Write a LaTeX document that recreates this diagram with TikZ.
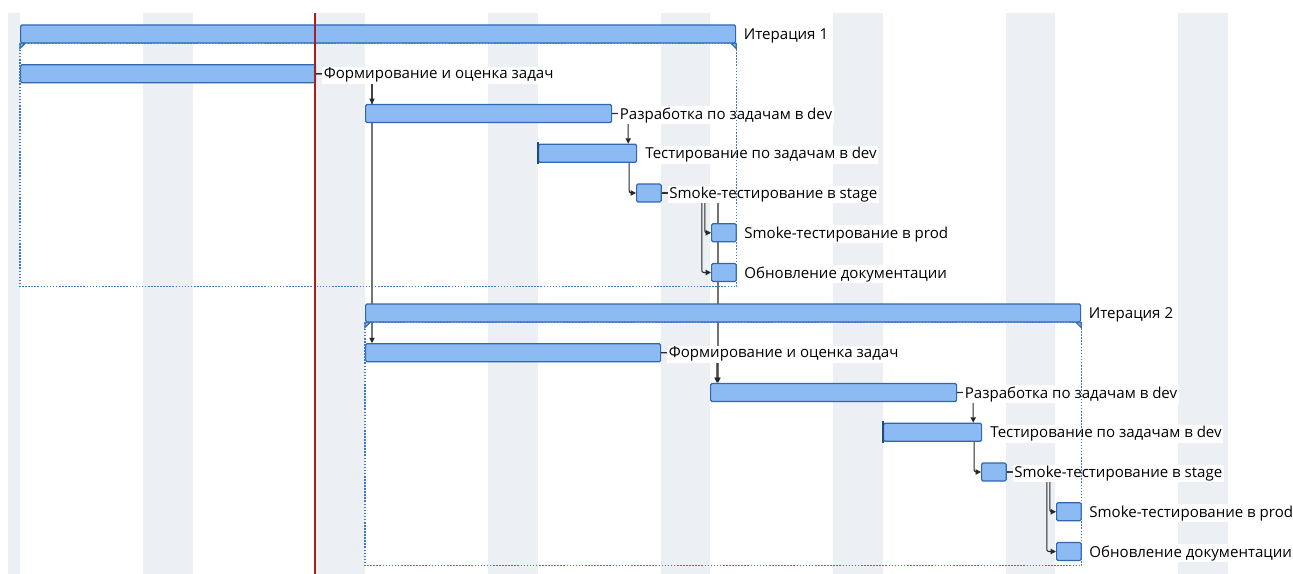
\documentclass[tikz,border=0pt]{standalone}
\usepackage{fontspec}
\setmainfont{Open Sans}
\usetikzlibrary{arrows.meta,positioning}
\definecolor{bandgray}{RGB}{236,239,243}
\definecolor{barfill}{RGB}{140,186,242}
\definecolor{barline}{RGB}{48,104,176}
\definecolor{framecol}{RGB}{60,120,195}
\definecolor{linkcol}{RGB}{40,40,40}
\definecolor{todaycol}{RGB}{170,30,30}
\pgfdeclarelayer{grid}
\pgfdeclarelayer{links}
\pgfsetlayers{grid,links,main}
\tikzset{
  bar/.style={rectangle, draw=barline, fill=barfill, line width=0.9pt,
    rounded corners=1pt, inner sep=0pt, anchor=west,
    minimum height=13.5pt, minimum width=#1*0.75pt},
  tail/.style={draw=barline, fill=barfill, line width=0.9pt},
  lbl/.style={fill=white, inner xsep=1pt, inner ysep=1pt, yshift=-1.2pt,
    font=\fontsize{11.3}{13}\selectfont},
  link/.style={draw=linkcol, line width=0.8pt, rounded corners=1.5pt,
    -{Triangle[length=4pt,width=4pt]}},
  marker/.style={draw=barline!70!black, line width=2pt},
  frame/.style={draw=framecol, line width=0.9pt, dash pattern=on 1.2pt off 1.1pt},
  today/.style={draw=todaycol, line width=1pt},
}
\begin{document}
\begin{tikzpicture}[x=0.75pt, y=-0.75pt]
\useasboundingbox (0,0) rectangle (1293,574);
% weekends
\begin{pgfonlayer}{grid}
\fill[bandgray] (8,13) rectangle (20,574);
\foreach \k in {0,...,6}
  \fill[bandgray] ({143.2+172.5*\k},13) rectangle ++(49.3,561);
\end{pgfonlayer}
% the two iterations
\foreach \i/\dx/\dy in {1/0/0,2/345/279}
{
\begin{scope}[shift={(\dx,\dy)}]
  \node[bar=715] (it\i) at (20,34) {};
  \filldraw[tail] (it\i.south west) -- ++(0,5) -- ++(5,-5) -- cycle;
  \filldraw[tail] (it\i.south east) -- ++(0,5) -- ++(-5,-5) -- cycle;
  \node[bar=295] (f\i) at (20,73.75) {};
  \node[bar=246] (r\i) at (365,113.5) {};
  \node[bar=98] (t\i) at (538,153.25) {};
  \node[bar=24.6] (ss\i) at (636,193) {};
  \node[bar=24.6] (sp\i) at (711,232.75) {};
  \node[bar=24.6] (doc\i) at (711,272.5) {};
  \draw[marker] ([yshift=1pt]t\i.north west) -- ([yshift=-1pt]t\i.south west);
  % the links
  \begin{pgfonlayer}{links}
  \draw[link] (f\i.east) -| ([xshift=5.25pt]r\i.north west);
  \draw[link] (r\i.east) -| ([xshift=-6.75pt]t\i.north east);
  \draw[link] ([xshift=-6pt]t\i.south east) |- (ss\i.west);
  \draw[link] (ss\i.east) -- ++(43,0) |- (sp\i.west);
  \draw[link] (ss\i.east) -- ++(40,0) |- (doc\i.west);
  \end{pgfonlayer}
  % the labels
  \node[lbl, right=4.5pt of it\i] (lit\i) {Итерация \i};
  \node[lbl, right=4.5pt of f\i] (lf\i) {Формирование и оценка задач};
  \node[lbl, right=4.5pt of r\i] (lr\i) {Разработка по задачам в dev};
  \node[lbl, right=5pt of t\i] (lt\i) {Тестирование по задачам в dev};
  \node[lbl, right=4.5pt of ss\i] (lss\i) {Smoke-тестирование в stage};
  \node[lbl, right=4.5pt of sp\i] (lsp\i) {Smoke-тестирование в prod};
  \node[lbl, right=4.5pt of doc\i] (ldoc\i) {Обновление документации};
  \draw[frame] (it\i.south west) rectangle ([yshift=-3.5pt]doc\i.south east);
\end{scope}
}
% links between the iterations
\begin{pgfonlayer}{links}
\draw[link] (f1.east) -| ([xshift=5.25pt]f2.north west);
\draw[link] (ss1.east) -| ([xshift=6pt]r2.north west);
\end{pgfonlayer}
\draw[today] (315,13) -- (315,574);
\end{tikzpicture}
\end{document}
